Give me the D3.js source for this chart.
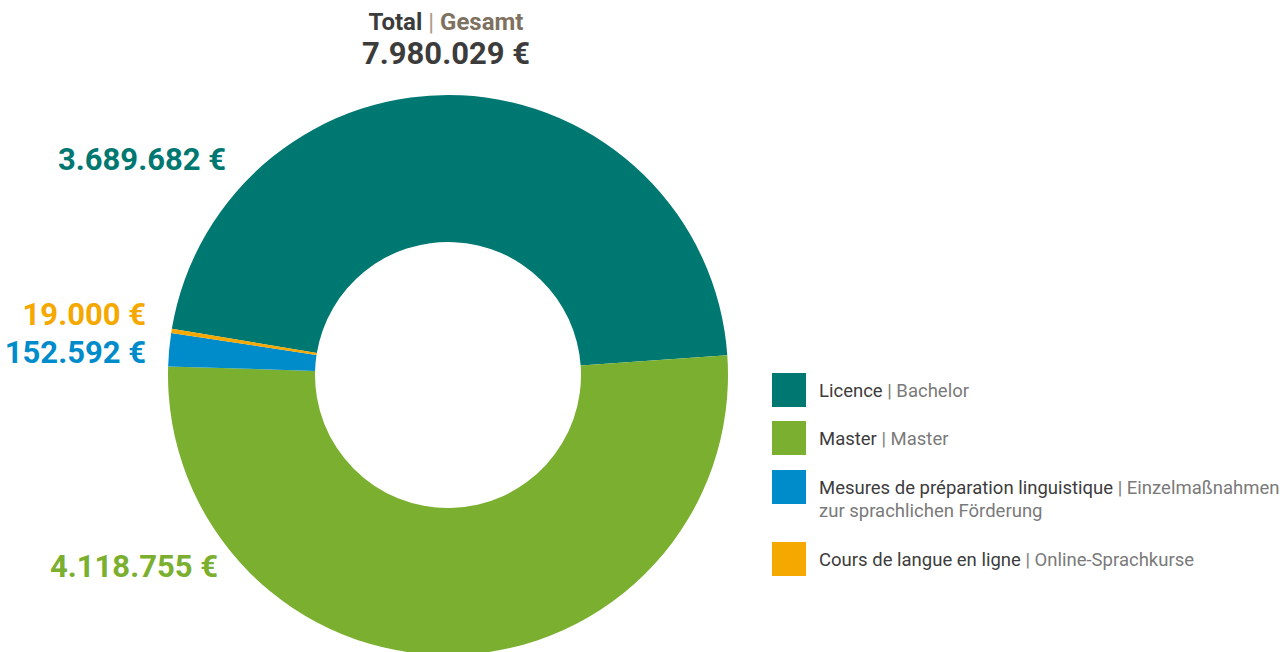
<!DOCTYPE html>
<html>
<head>
<meta charset="utf-8">
<script src="https://cdn.jsdelivr.net/npm/d3@7"></script>
<style>
  body { margin: 0; background: #fff; }
  svg { display: block; font-family: Roboto, "Liberation Sans", sans-serif; }
</style>
</head>
<body>
<svg width="1285" height="652"></svg>
<script>
var categoriesFr = ["Licence", "Master", "Mesures de préparation linguistique", "Cours de langue en ligne"];
var categoriesDe = ["Bachelor", "Master", "Einzelmaßnahmen", "Online-Sprachkurse"];
var categoriesDe2 = ["", "", "zur sprachlichen Förderung", ""];
var values = [3689682, 4118755, 152592, 19000];
var colors = ["#007872", "#7aaf2f", "#008bcb", "#f5a800"];

var svg = d3.select("svg"),
    width = +svg.attr("width"),
    height = +svg.attr("height");

var cx = 448, cy = 375, outerR = 280, innerR = 133;

var fmt = d3.formatLocale({decimal: ",", thousands: ".", grouping: [3], currency: ["", " €"]}).format("$,d");

var total = d3.sum(values);

// ring starts so that Master begins just under 3 o'clock
var start = -80.5 * Math.PI / 180;
var pie = d3.pie().sort(null).startAngle(start).endAngle(start + 2 * Math.PI);
var arc = d3.arc().innerRadius(innerR).outerRadius(outerR);

var g = svg.append("g").attr("transform", "translate(" + cx + "," + cy + ")");
g.selectAll("path")
    .data(pie(values))
    .enter().append("path")
    .attr("d", arc)
    .attr("fill", function(d, i) { return colors[i]; });

// title
var title = svg.append("text")
    .attr("x", 446).attr("y", 30)
    .attr("text-anchor", "middle")
    .attr("font-size", 24).attr("font-weight", "bold");
title.append("tspan").attr("fill", "#3c3c3c").text("Total");
title.append("tspan").attr("fill", "#a89c8c").attr("font-weight", "normal").text(" | ");
title.append("tspan").attr("fill", "#7f715f").text("Gesamt");

svg.append("text")
    .attr("x", 446).attr("y", 64)
    .attr("text-anchor", "middle")
    .attr("font-size", 31).attr("font-weight", "bold")
    .attr("fill", "#3c3c3c")
    .text(fmt(total));

// value labels (right aligned, left of the ring)
var labelPos = [[226, 170], [218, 577], [146, 363], [146, 325]];
svg.selectAll(".val")
    .data(values)
    .enter().append("text")
    .attr("class", "val")
    .attr("x", function(d, i) { return labelPos[i][0]; })
    .attr("y", function(d, i) { return labelPos[i][1]; })
    .attr("text-anchor", "end")
    .attr("font-size", 31).attr("font-weight", "bold")
    .attr("fill", function(d, i) { return colors[i]; })
    .text(function(d) { return fmt(d); });

// legend
var legendY = [373, 421, 470, 542];
var legend = svg.selectAll(".leg")
    .data(d3.range(categoriesFr.length))
    .enter().append("g")
    .attr("class", "leg")
    .attr("transform", function(i) { return "translate(772," + legendY[i] + ")"; });

legend.append("rect")
    .attr("width", 34).attr("height", 34)
    .attr("fill", function(i) { return colors[i]; });

var lt = legend.append("text")
    .attr("x", 47).attr("y", 24)
    .attr("font-size", 18.5);
lt.append("tspan").attr("fill", "#3c3c3c").text(function(i) { return categoriesFr[i]; });
lt.append("tspan").attr("fill", "#7a7a7a").text(function(i) { return " | " + categoriesDe[i]; });

legend.filter(function(i) { return categoriesDe2[i]; })
    .append("text")
    .attr("x", 47).attr("y", 47)
    .attr("font-size", 18.5).attr("fill", "#7a7a7a")
    .text(function(i) { return categoriesDe2[i]; });
</script>
</body>
</html>
